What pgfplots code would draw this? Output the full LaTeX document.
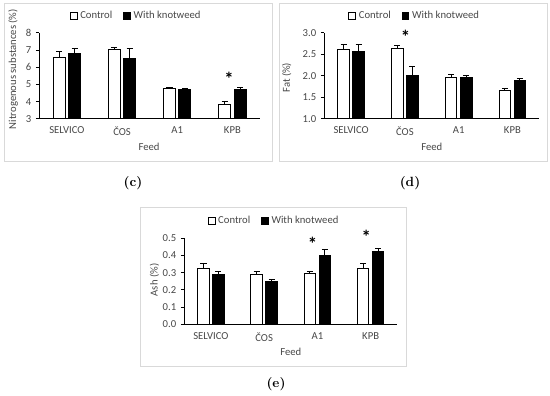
\documentclass[border=0pt]{standalone}
\usepackage{pgfplots}
\pgfplotsset{compat=1.18}
\usepackage{pgfplotstable}
\usepackage{fontspec}
\setsansfont{Carlito}
\definecolor{txtgray}{HTML}{474747}
\definecolor{framegray}{HTML}{D9D9D9}

\pgfplotstableread{
x c ce k ke
0 6.60 0.31 6.82 0.28
1 7.06 0.09 6.50 0.62
2 4.80 0.05 4.70 0.08
3 3.84 0.15 4.70 0.15
}\tabc
\pgfplotstableread{
x c ce k ke
0 2.61 0.12 2.56 0.17
1 2.64 0.07 2.00 0.21
2 1.965 0.07 1.965 0.05
3 1.67 0.05 1.895 0.05
}\tabd
\pgfplotstableread{
x c ce k ke
0 0.326 0.030 0.287 0.021
1 0.287 0.020 0.246 0.012
2 0.293 0.015 0.401 0.033
3 0.326 0.029 0.422 0.020
}\tabe

\pgfplotsset{
  /pgfplots/ybar legend/.style={/pgfplots/legend image code/.code={\draw[##1,/tikz/.cd,line width=0.75pt] (0pt,-2.6pt) rectangle (5.2pt,2.6pt);}},
  panel/.style={
    scale only axis, height=64.5pt,
    ybar, bar width=0.217,
    xmin=-0.5, xmax=3.5, xtick={0,1,2,3}, xticklabels={SELVICO,ČOS,A1,KPB},
    axis x line*=bottom, axis y line*=left,
    axis line style={black, line width=0.75pt},
    major x tick style={draw=none},
    tick align=outside, major tick length=2.5pt,
    y tick style={black, line width=0.75pt},
    font=\sffamily\fontsize{8}{9.5}\selectfont,
    tick label style={text=txtgray, font=\sffamily\fontsize{8}{9.5}\selectfont},
    /pgf/number format/assume math mode=true,
    label style={text=txtgray, font=\sffamily\fontsize{8}{9.5}\selectfont},
    xlabel={Feed},
    legend columns=2,
    legend style={draw=none, fill=none, text=txtgray, font=\sffamily\fontsize{8}{9.5}\selectfont,
      anchor=center, /tikz/every even column/.append style={column sep=6pt}},
    legend cell align=left,
    clip=false,
  },
  ctrl/.style={fill=white, draw=black, line width=0.75pt, bar shift=-0.14,
    error bars/.cd, y dir=plus, y explicit,
    error bar style={line width=0.75pt, black},
    error mark options={rotate=90, mark size=2.3pt, line width=0.75pt, black}},
  knot/.style={fill=black, draw=black, line width=0.75pt, bar shift=0.14,
    error bars/.cd, y dir=plus, y explicit,
    error bar style={line width=0.75pt, black},
    error mark options={rotate=90, mark size=2.3pt, line width=0.75pt, black}},
}
\newcommand{\sigstar}{\sffamily\bfseries\fontsize{14}{14}\selectfont *}

\begin{document}
\begin{tikzpicture}
\useasboundingbox (0,0) rectangle (412.5pt,297pt);
% frames
\draw[framegray, line width=0.75pt] (3pt,175.5pt) rectangle (204pt,294pt);
\draw[framegray, line width=0.75pt] (209.25pt,175.5pt) rectangle (410.25pt,294pt);
\draw[framegray, line width=0.75pt] (105pt,21.75pt) rectangle (304.5pt,141pt);
% captions
\node[font=\rmfamily\bfseries\fontsize{10}{12}\selectfont] at (99.75pt,159.75pt) {(c)};
\node[font=\rmfamily\bfseries\fontsize{10}{12}\selectfont] at (307.5pt,159.75pt) {(d)};
\node[font=\rmfamily\bfseries\fontsize{10}{12}\selectfont] at (207pt,9pt) {(e)};

% (c)
\begin{axis}[panel, at={(29.5pt,207.75pt)}, anchor=south west, width=165.5pt,
  ymin=3, ymax=8, ytick={3,4,5,6,7,8},
  ylabel={Nitrogenous substances (\%)},
  ylabel style={at={(axis description cs:-0.119,0.58)}, anchor=center},
  xlabel style={at={(axis description cs:0.497,-0.326)}, anchor=center},
  legend style={at={(axis description cs:0.44,1.201)}}]
\addplot[ctrl] table[x=x, y=c, y error=ce]{\tabc};
\addplot[knot] table[x=x, y=k, y error=ke]{\tabc};
\legend{Control, With knotweed}
\node[anchor=center] at (axis cs:2.94,5.35) {\sigstar};
\end{axis}

% (d)
\begin{axis}[panel, at={(243.2pt,207.75pt)}, anchor=south west, width=161.25pt,
  ymin=1, ymax=3, ytick={1,1.5,2,2.5,3},
  yticklabel style={/pgf/number format/.cd, fixed, fixed zerofill, precision=1},
  ylabel={Fat (\%)},
  ylabel style={at={(axis description cs:-0.175,0.48)}, anchor=center},
  xlabel style={at={(axis description cs:0.5,-0.326)}, anchor=center},
  legend style={at={(axis description cs:0.422,1.201)}}]
\addplot[ctrl] table[x=x, y=c, y error=ce]{\tabd};
\addplot[knot] table[x=x, y=k, y error=ke]{\tabd};
\legend{Control, With knotweed}
\node[anchor=center] at (axis cs:1.01,2.90) {\sigstar};
\end{axis}

% (e)
\begin{axis}[panel, at={(138.2pt,53.8pt)}, anchor=south west, width=159.75pt,
  ymin=0, ymax=0.5, ytick={0,0.1,0.2,0.3,0.4,0.5},
  yticklabel style={/pgf/number format/.cd, fixed, fixed zerofill, precision=1},
  ylabel={Ash (\%)},
  ylabel style={at={(axis description cs:-0.14,0.515)}, anchor=center},
  xlabel style={at={(axis description cs:0.5,-0.322)}, anchor=center},
  legend style={at={(axis description cs:0.423,1.201)}}]
\addplot[ctrl] table[x=x, y=c, y error=ce]{\tabe};
\addplot[knot] table[x=x, y=k, y error=ke]{\tabe};
\legend{Control, With knotweed}
\node[anchor=center] at (axis cs:1.91,0.465) {\sigstar};
\node[anchor=center] at (axis cs:2.92,0.51) {\sigstar};
\end{axis}
\end{tikzpicture}
\end{document}
